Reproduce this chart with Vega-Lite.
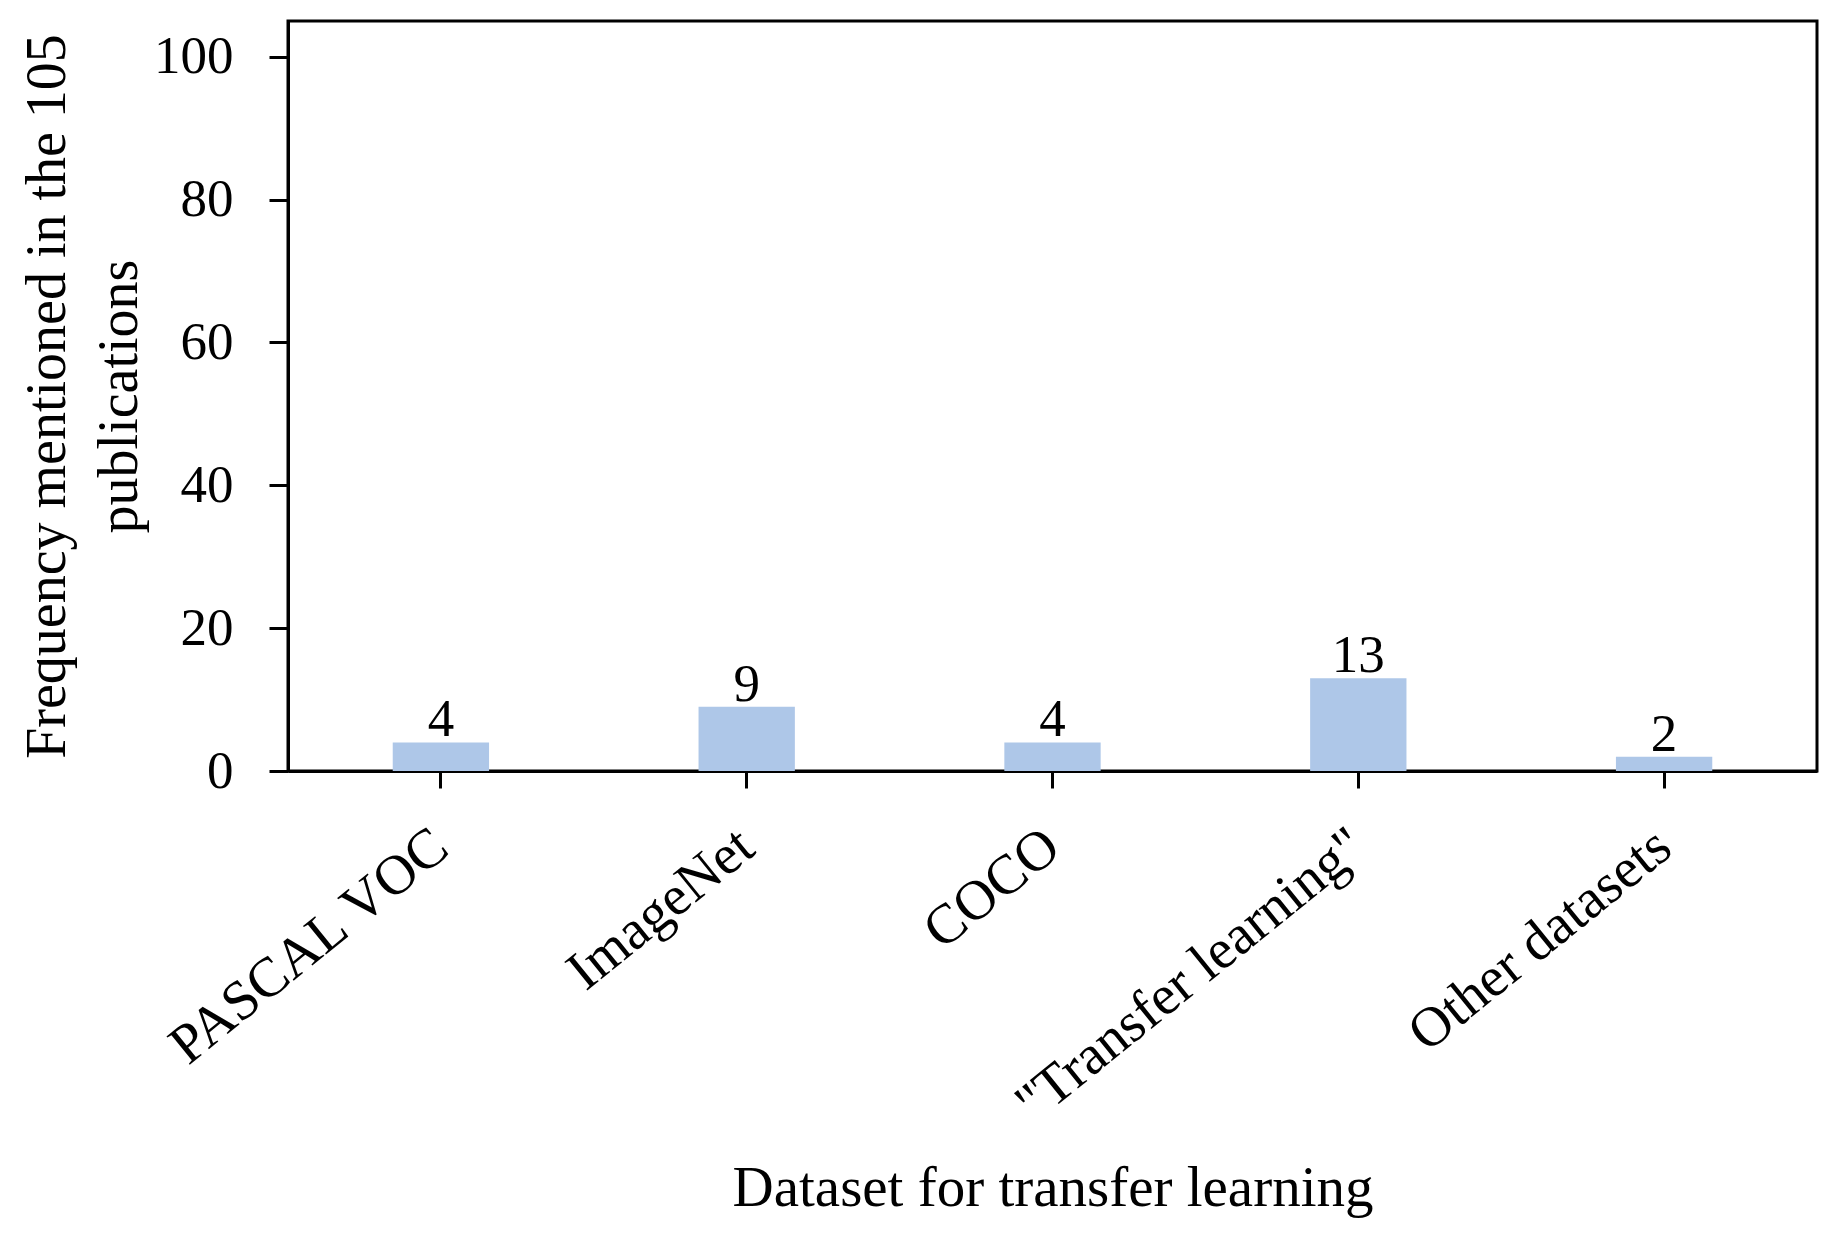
{
  "$schema": "https://vega.github.io/schema/vega-lite/v6.json",
  "autosize": "none",
  "width": 1529,
  "height": 750,
  "padding": {"left": 288, "top": 21, "right": 27, "bottom": 465},
  "background": "white",
  "config": {
    "view": {"stroke": "black", "strokeWidth": 3},
    "font": "Liberation Serif",
    "axis": {
      "labelFont": "Liberation Serif",
      "titleFont": "Liberation Serif",
      "labelColor": "black",
      "titleColor": "black",
      "domainColor": "black",
      "tickColor": "black",
      "domainWidth": 3,
      "tickWidth": 3,
      "grid": false,
      "titleFontWeight": "normal"
    }
  },
  "data": {
    "values": [
      {"dataset": "PASCAL VOC", "count": 4},
      {"dataset": "ImageNet", "count": 9},
      {"dataset": "COCO", "count": 4},
      {"dataset": "\"Transfer learning\"", "count": 13},
      {"dataset": "Other datasets", "count": 2}
    ]
  },
  "encoding": {
    "x": {
      "field": "dataset",
      "type": "nominal",
      "sort": null,
      "scale": {"paddingInner": 0.685, "paddingOuter": 0.3425},
      "axis": {
        "title": "Dataset for transfer learning",
        "titleFontSize": 57,
        "titleY": 434,
        "titleBaseline": "alphabetic",
        "labelFontSize": 56,
        "labelAngle": -39,
        "labelAlign": "right",
        "labelBaseline": "middle",
        "labelPadding": 51,
        "labelLimit": 0,
        "tickSize": 17
      }
    },
    "y": {
      "field": "count",
      "type": "quantitative",
      "scale": {"domain": [0, 105], "nice": false},
      "axis": {
        "title": ["Frequency mentioned in the 105", "publications"],
        "titleFontSize": 56,
        "titleLineHeight": 72,
        "titlePadding": 5,
        "labelFontSize": 53,
        "labelPadding": 36,
        "values": [0, 20, 40, 60, 80, 100],
        "tickSize": 19
      }
    }
  },
  "layer": [
    {"mark": {"type": "bar", "color": "#aec7e8"}},
    {
      "mark": {"type": "text", "baseline": "alphabetic", "dy": -6, "fontSize": 53, "color": "black", "font": "Liberation Serif"},
      "encoding": {"text": {"field": "count", "type": "quantitative"}}
    }
  ]
}
